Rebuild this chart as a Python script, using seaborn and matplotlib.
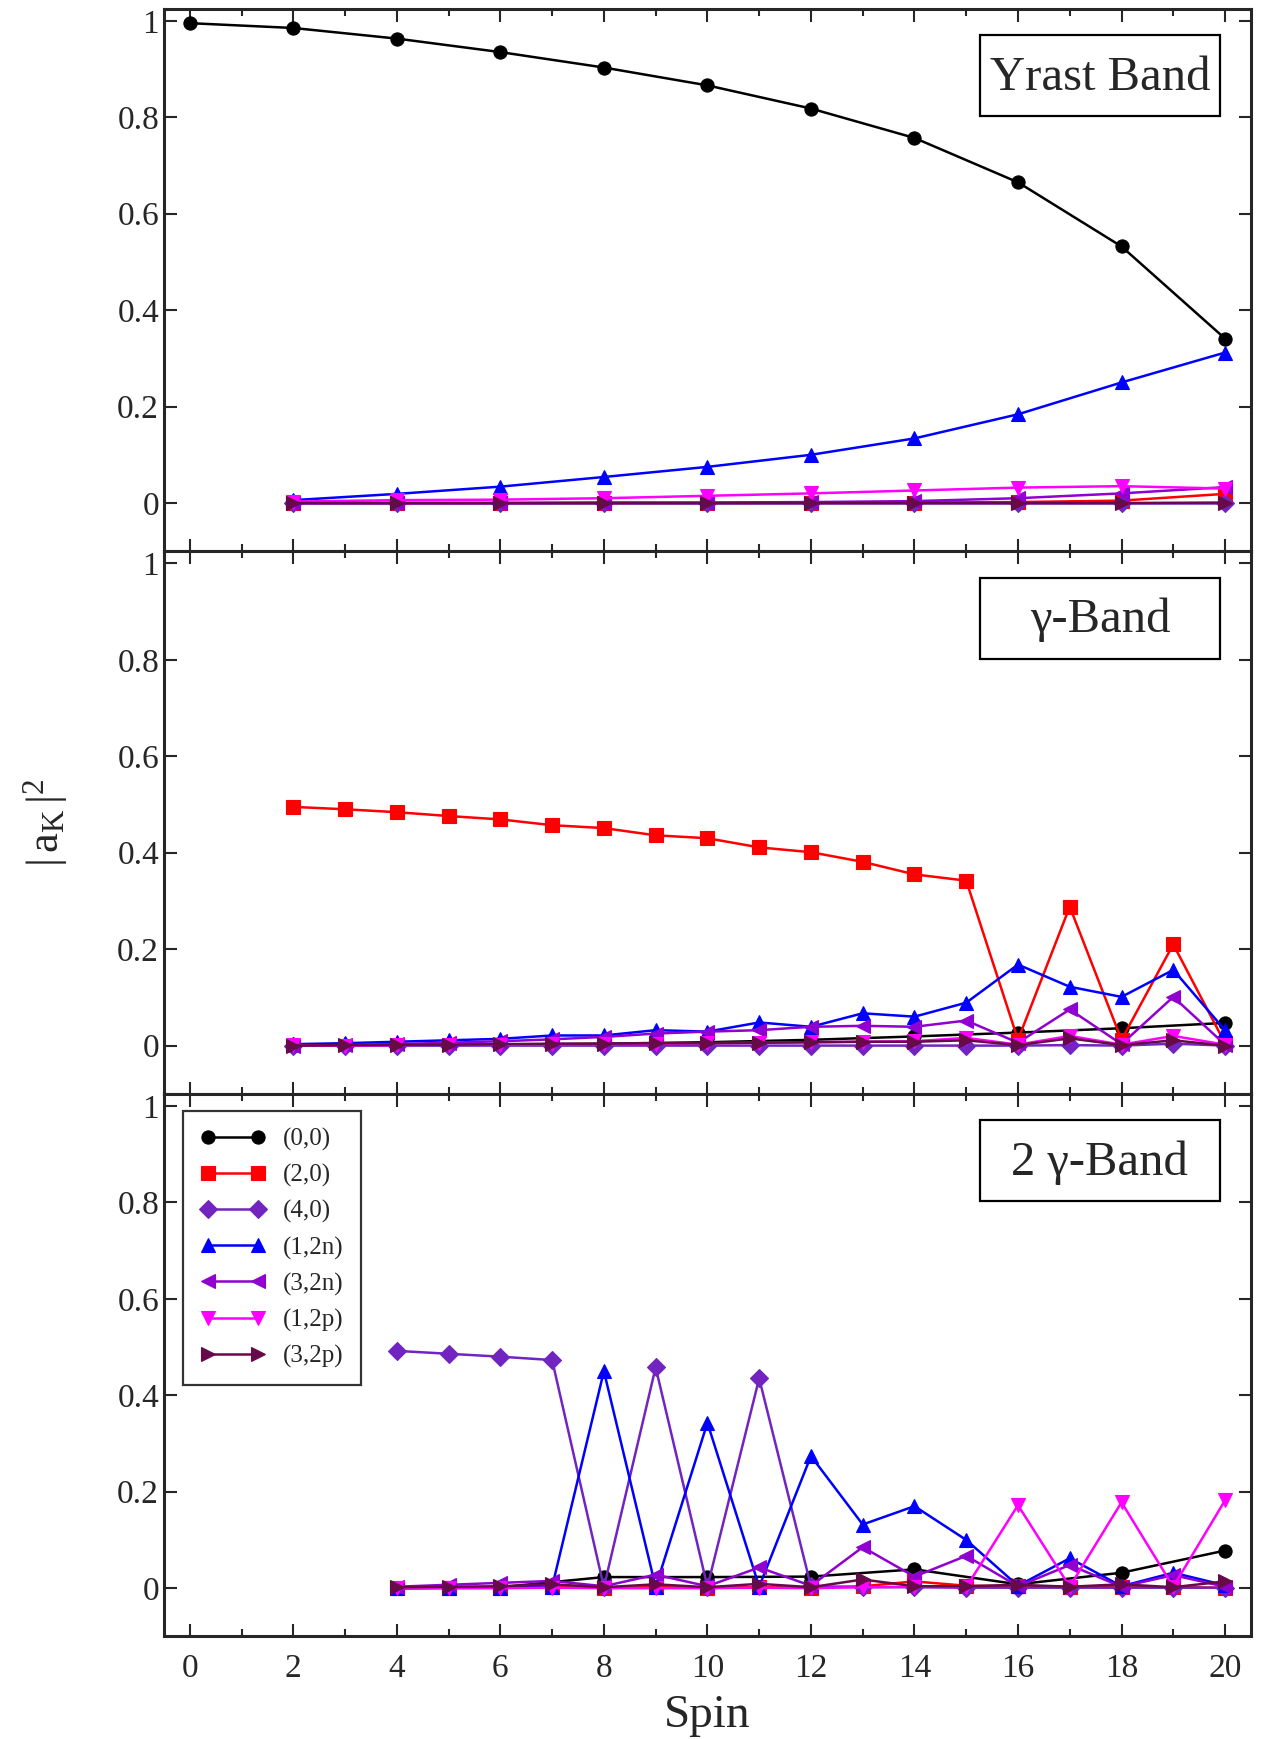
import numpy as np
import pandas as pd
import matplotlib
matplotlib.use('Agg')
import matplotlib.pyplot as plt
import seaborn as sns
from matplotlib.patches import Rectangle
from matplotlib.ticker import MultipleLocator

# series labels, colours and markers (legend order)
labels = ['(0,0)', '(2,0)', '(4,0)', '(1,2n)', '(3,2n)', '(1,2p)', '(3,2p)']
colors = ['black', '#ff0000', '#7224c0', '#0000ff', '#9000d0', '#ff00ff', '#660a48']
markers = ['o', 's', 'D', '^', '<', 'v', '>']

# Yrast band
yr_spin0 = [0, 2, 4, 6, 8, 10, 12, 14, 16, 18, 20]
yr_spin = [2, 4, 6, 8, 10, 12, 14, 16, 18, 20]
yr_00 = [0.995, 0.985, 0.963, 0.935, 0.903, 0.866, 0.818, 0.757, 0.665, 0.532, 0.341]
yr_20 = [0.0, 0.0, 0.0, 0.0, 0.0, 0.001, 0.001, 0.002, 0.005, 0.019]
yr_40 = [0.0, 0.0, 0.0, 0.0, 0.0, 0.0, 0.0, 0.0, 0.0, 0.0]
yr_12n = [0.006, 0.019, 0.034, 0.054, 0.075, 0.100, 0.134, 0.184, 0.250, 0.312]
yr_32n = [0.0, 0.0, 0.0, 0.001, 0.001, 0.002, 0.004, 0.010, 0.020, 0.033]
yr_12p = [0.003, 0.006, 0.007, 0.010, 0.015, 0.020, 0.026, 0.032, 0.035, 0.030]
yr_32p = [0.0, 0.0, 0.0, 0.0, 0.0, 0.0, 0.0, 0.0, 0.0, 0.001]

# gamma band
g_spin_even = [2, 4, 6, 8, 10, 12, 14, 16, 18, 20]
g_spin = [2, 3, 4, 5, 6, 7, 8, 9, 10, 11, 12, 13, 14, 15, 16, 17, 18, 19, 20]
g_00 = [0.0, 0.001, 0.002, 0.004, 0.007, 0.012, 0.019, 0.027, 0.036, 0.047]
g_20 = [0.495, 0.490, 0.484, 0.476, 0.469, 0.457, 0.451, 0.436, 0.430, 0.411,
        0.401, 0.381, 0.355, 0.342, 0.012, 0.288, 0.012, 0.210, 0.005]
g_40 = [0.0, 0.0, 0.0, 0.0, 0.0, 0.0, 0.0, 0.0, 0.0, 0.0,
        0.0, 0.0, 0.0, 0.0, 0.0, 0.001, 0.0, 0.004, 0.0]
g_12n = [0.003, 0.005, 0.008, 0.011, 0.014, 0.021, 0.021, 0.032, 0.029, 0.048,
         0.039, 0.067, 0.060, 0.089, 0.168, 0.122, 0.101, 0.157, 0.032]
g_32n = [0.0, 0.001, 0.003, 0.006, 0.009, 0.013, 0.018, 0.025, 0.029, 0.032,
         0.039, 0.041, 0.039, 0.052, 0.006, 0.075, 0.003, 0.101, 0.002]
g_12p = [0.001, 0.0, 0.001, 0.002, 0.002, 0.003, 0.003, 0.004, 0.005, 0.006,
         0.007, 0.008, 0.009, 0.016, 0.002, 0.020, 0.002, 0.020, 0.002]
g_32p = [0.0, 0.001, 0.002, 0.002, 0.003, 0.004, 0.004, 0.005, 0.005, 0.006,
         0.007, 0.008, 0.008, 0.011, 0.001, 0.015, 0.001, 0.011, 0.0]

# 2 gamma band
t_spin_even = [4, 6, 8, 10, 12, 14, 16, 18, 20]
t_spin = [4, 5, 6, 7, 8, 9, 10, 11, 12, 13, 14, 15, 16, 17, 18, 19, 20]
t_00 = [0.0, 0.002, 0.023, 0.023, 0.024, 0.039, 0.008, 0.032, 0.078]
t_20 = [0.0, 0.0, 0.001, 0.002, 0.001, 0.002, 0.001, 0.002, 0.001,
        0.004, 0.014, 0.005, 0.004, 0.003, 0.002, 0.002, 0.001]
t_40 = [0.492, 0.486, 0.480, 0.473, 0.002, 0.458, 0.003, 0.435, 0.004,
        0.002, 0.002, 0.001, 0.001, 0.001, 0.001, 0.001, 0.001]
t_12n = [0.0, 0.001, 0.001, 0.003, 0.450, 0.002, 0.343, 0.003, 0.274,
         0.132, 0.170, 0.100, 0.005, 0.062, 0.004, 0.032, 0.006]
t_32n = [0.003, 0.007, 0.011, 0.015, 0.004, 0.028, 0.004, 0.043, 0.005,
         0.085, 0.024, 0.067, 0.004, 0.048, 0.003, 0.027, 0.003]
t_12p = [0.0, 0.0, 0.0, 0.001, 0.0, 0.0, 0.0, 0.001, 0.0,
         0.002, 0.003, 0.002, 0.172, 0.003, 0.178, 0.003, 0.182]
t_32p = [0.002, 0.003, 0.004, 0.008, 0.002, 0.008, 0.002, 0.009, 0.002,
         0.018, 0.004, 0.004, 0.007, 0.003, 0.008, 0.002, 0.014]

panels = [
    ('Yrast Band', [(yr_spin0, yr_00), (yr_spin, yr_20), (yr_spin, yr_40), (yr_spin, yr_12n),
                    (yr_spin, yr_32n), (yr_spin, yr_12p), (yr_spin, yr_32p)]),
    ('γ-Band', [(g_spin_even, g_00), (g_spin, g_20), (g_spin, g_40), (g_spin, g_12n),
                (g_spin, g_32n), (g_spin, g_12p), (g_spin, g_32p)]),
    ('2 γ-Band', [(t_spin_even, t_00), (t_spin, t_20), (t_spin, t_40), (t_spin, t_12n),
                  (t_spin, t_32n), (t_spin, t_12p), (t_spin, t_32p)]),
]

sns.set_style('ticks')
plt.rcParams['font.family'] = ['Liberation Serif', 'DejaVu Serif']
plt.rcParams['mathtext.fontset'] = 'custom'
plt.rcParams['mathtext.rm'] = 'Liberation Serif'
plt.rcParams['mathtext.it'] = 'Liberation Serif:italic'

fig, axes = plt.subplots(3, 1, figsize=(12.61, 17.39), dpi=100, sharex=True)
fig.subplots_adjust(left=0.130, right=0.992, top=0.995, bottom=0.059, hspace=0)

for ax, (title, series) in zip(axes, panels):
    for (x, y), lab, c, m in zip(series, labels, colors, markers):
        df = pd.DataFrame({'spin': x, 'ak2': y})
        sns.lineplot(data=df, x='spin', y='ak2', ax=ax, color=c, marker=m,
                     markersize=9.5, markeredgecolor=c, markeredgewidth=0.8,
                     linewidth=1.8, label=lab, legend=False, sort=False)
    ax.set_xlim(-0.5, 20.5)
    ax.set_ylim(-0.1, 1.025)
    ax.set_yticks([0, 0.2, 0.4, 0.6, 0.8, 1.0])
    ax.set_yticklabels(['0', '0.2', '0.4', '0.6', '0.8', '1'])
    ax.xaxis.set_major_locator(MultipleLocator(2))
    ax.xaxis.set_minor_locator(MultipleLocator(1))
    ax.tick_params(which='both', direction='in', top=True, right=True, width=1.5, labelsize=24)
    ax.tick_params(which='major', length=9)
    ax.tick_params(which='minor', length=5)
    ax.tick_params(axis='x', pad=12)
    for s in ax.spines.values():
        s.set_linewidth(2.2)
    ax.set_xlabel('')
    ax.set_ylabel('')
    ax.add_patch(Rectangle((0.751, 0.802), 0.221, 0.149, transform=ax.transAxes,
                           fill=False, edgecolor='black', linewidth=1.6, zorder=5))
    ax.text(0.861, 0.873, title, transform=ax.transAxes, ha='center', va='center',
            fontsize=35, zorder=6)

axes[2].set_xticks(np.arange(0, 21, 2))
axes[2].set_xlabel('Spin', fontsize=34, labelpad=8)
axes[1].set_ylabel(r'$|\,\mathrm{a}_{\mathrm{K}}\,|^2$', fontsize=32, labelpad=34)

handles, labs = axes[2].get_legend_handles_labels()
leg = axes[2].legend(handles, labs, loc='upper left', bbox_to_anchor=(0.006, 0.992),
                     numpoints=2, handlelength=2.6, fontsize=18, labelspacing=0.52,
                     frameon=True, fancybox=False, edgecolor='black', borderpad=0.7,
                     handletextpad=0.7)
leg.get_frame().set_linewidth(1.6)

fig.savefig('out.png', dpi=100)
